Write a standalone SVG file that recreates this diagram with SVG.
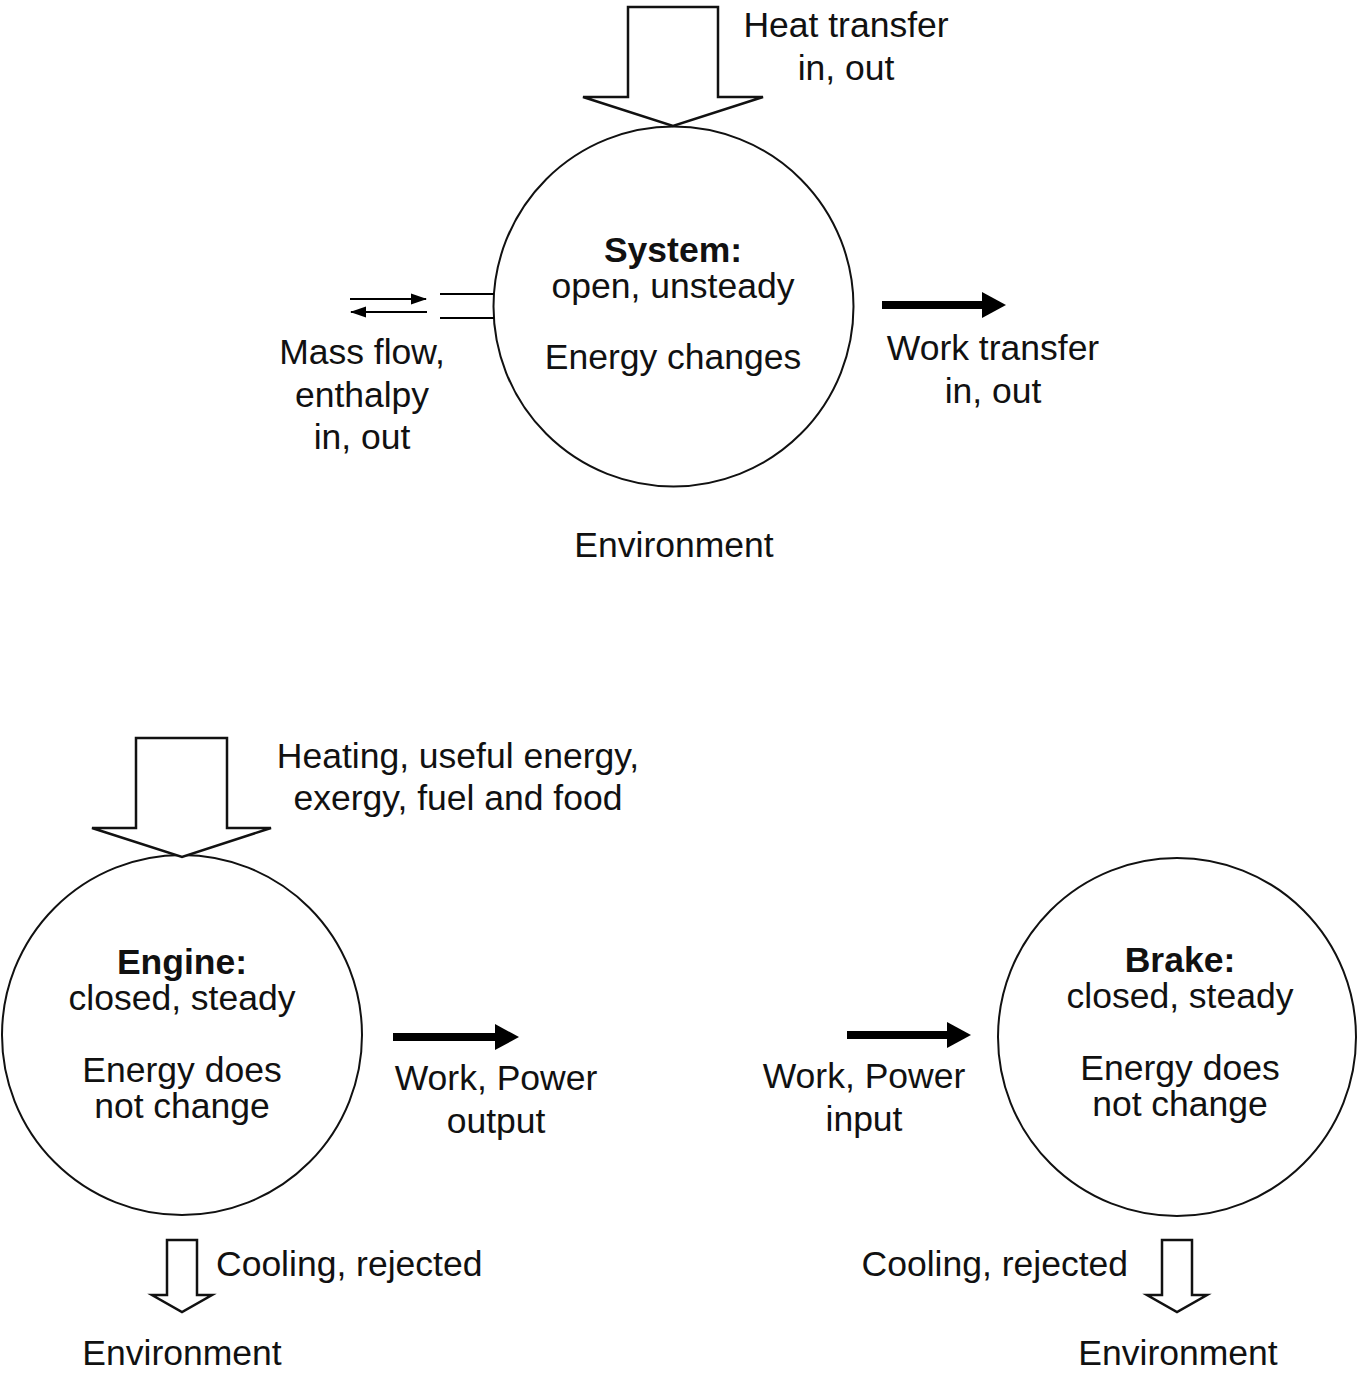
<svg xmlns="http://www.w3.org/2000/svg" width="1358" height="1379" viewBox="0 0 1358 1379">
<defs>
<style>
text{font-family:"Liberation Sans",Arial,sans-serif;font-size:35.5px;fill:#111;text-anchor:middle}
.b{font-weight:bold}
.s{text-anchor:start}
.e{text-anchor:end}
.c{fill:#fff;stroke:#111;stroke-width:2}
.h{fill:#fff;stroke:#111;stroke-width:2.5;stroke-linejoin:miter}
.tk{stroke:#000;stroke-width:8;fill:none}
.tn{stroke:#000;stroke-width:2;fill:none}
</style>
<marker id="thick" markerUnits="userSpaceOnUse" markerWidth="24" markerHeight="26" refX="0" refY="13" orient="auto"><path d="M0,0 L24,13 L0,26 z" fill="#000"/></marker>
<marker id="thin" markerUnits="userSpaceOnUse" markerWidth="16" markerHeight="12" refX="15" refY="6" orient="auto"><path d="M0,0.5 L16,6 L0,11.5 z" fill="#000"/></marker>
</defs>
<rect width="1358" height="1379" fill="#fff"/>

<g id="system">
<circle class="c" cx="673.5" cy="306.5" r="180"/>
<text class="b" x="673" y="262">System:</text>
<text x="673" y="298">open, unsteady</text>
<text x="673" y="369">Energy changes</text>
</g>

<g id="engine">
<circle class="c" cx="182" cy="1035" r="180"/>
<text class="b" x="182" y="974">Engine:</text>
<text x="182" y="1010">closed, steady</text>
<text x="182" y="1082">Energy does</text>
<text x="182" y="1118">not change</text>
</g>

<g id="brake">
<circle class="c" cx="1177" cy="1037" r="179"/>
<text class="b" x="1180" y="972">Brake:</text>
<text x="1180" y="1008">closed, steady</text>
<text x="1180" y="1080">Energy does</text>
<text x="1180" y="1116">not change</text>
</g>

<g id="connectors">
<path class="h" d="M628,7 H718 V97 H763 L673,126 L583,97 H628 Z"/>
<path class="h" d="M136,738 H227 V828 H271 L182,857 L92,828 H136 Z"/>
<path class="h" d="M167,1240 H197 V1295 H212 L182,1312 L152,1295 H167 Z"/>
<path class="h" d="M1162,1240 H1192 V1295 H1207 L1177,1312 L1147,1295 H1162 Z"/>
<line class="tk" x1="882" y1="305" x2="982" y2="305" marker-end="url(#thick)"/>
<line class="tk" x1="393" y1="1037" x2="495" y2="1037" marker-end="url(#thick)"/>
<line class="tk" x1="847" y1="1035" x2="947" y2="1035" marker-end="url(#thick)"/>
<line class="tn" x1="350" y1="299" x2="426" y2="299" marker-end="url(#thin)"/>
<line class="tn" x1="427" y1="312" x2="351" y2="312" marker-end="url(#thin)"/>
<line class="tn" x1="440" y1="294" x2="494" y2="294"/>
<line class="tn" x1="440" y1="318" x2="494" y2="318"/>
</g>

<g id="labels">
<text x="846" y="37">Heat transfer</text>
<text x="846" y="80">in, out</text>
<text x="362" y="364">Mass flow,</text>
<text x="362" y="407">enthalpy</text>
<text x="362" y="449">in, out</text>
<text x="993" y="360">Work transfer</text>
<text x="993" y="403">in, out</text>
<text x="674" y="557">Environment</text>
<text x="458" y="768">Heating, useful energy,</text>
<text x="458" y="810">exergy, fuel and food</text>
<text x="496" y="1090">Work, Power</text>
<text x="496" y="1133">output</text>
<text x="864" y="1088">Work, Power</text>
<text x="864" y="1131">input</text>
<text class="s" x="216" y="1276">Cooling, rejected</text>
<text class="e" x="1128" y="1276">Cooling, rejected</text>
<text x="182" y="1365">Environment</text>
<text x="1178" y="1365">Environment</text>
</g>
</svg>
